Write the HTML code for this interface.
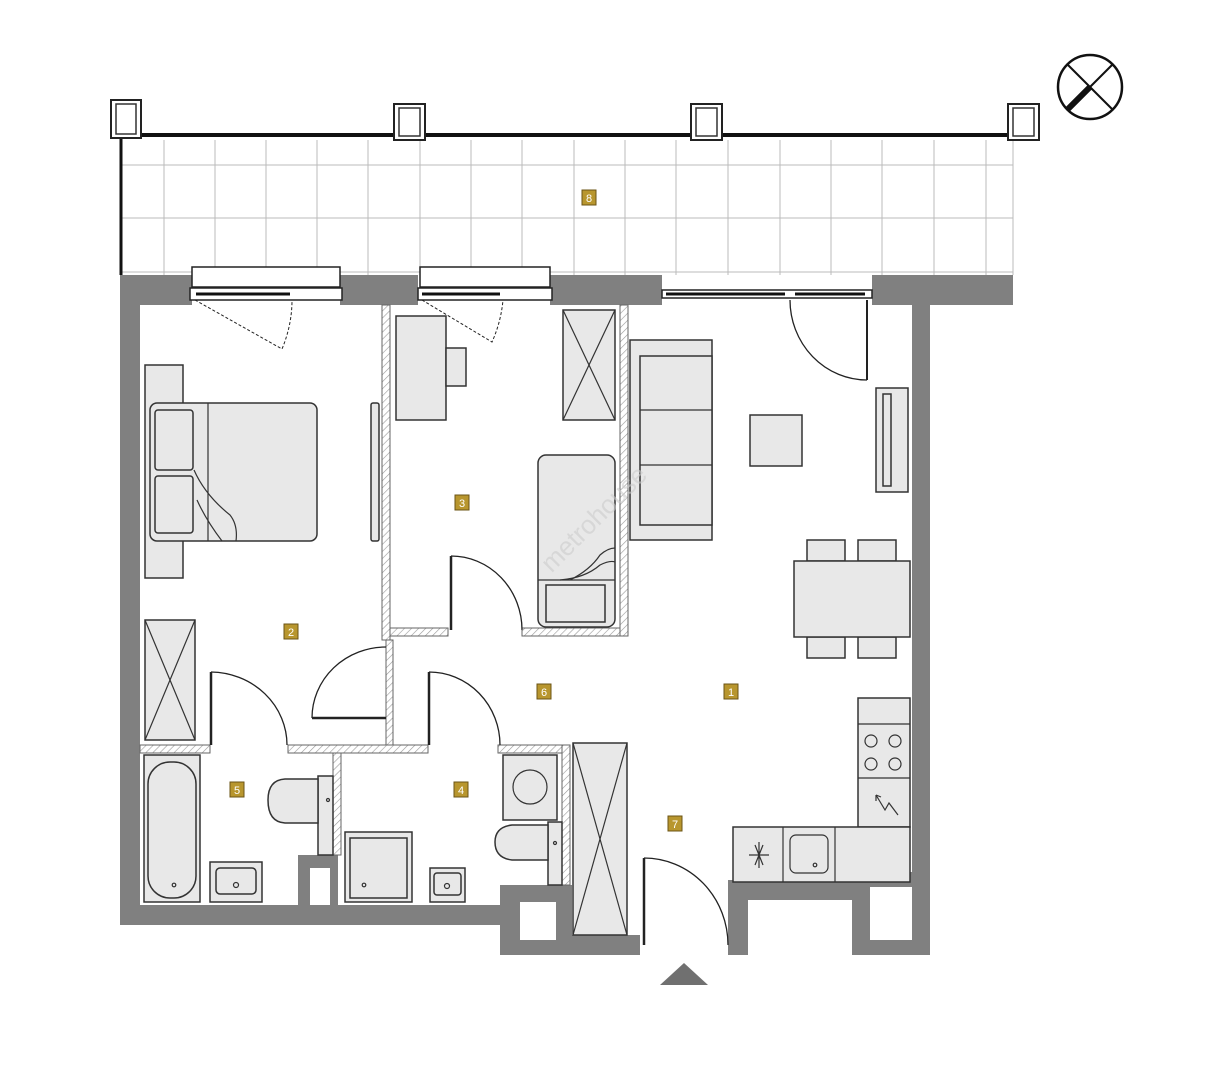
<!DOCTYPE html>
<html><head><meta charset="utf-8"><style>
body{margin:0;background:#fff;width:1205px;height:1080px;overflow:hidden}
svg{display:block}
text{font-family:"Liberation Sans",sans-serif}
</style></head><body>
<svg width="1205" height="1080" viewBox="0 0 1205 1080" xmlns="http://www.w3.org/2000/svg">
<defs>
<pattern id="h" width="5" height="5" patternUnits="userSpaceOnUse" patternTransform="rotate(45)">
<rect width="5" height="5" fill="#fff"/><line x1="0" y1="0" x2="0" y2="5" stroke="#999" stroke-width="1.2"/></pattern>
</defs>
<!-- balcony grid -->
<g stroke="#bbb" stroke-width="1">
<line x1="120" y1="165" x2="1013" y2="165"/><line x1="120" y1="218" x2="1013" y2="218"/><line x1="120" y1="272" x2="1013" y2="272"/>
<line x1="164" y1="140" x2="164" y2="275"/><line x1="215" y1="140" x2="215" y2="275"/><line x1="266" y1="140" x2="266" y2="275"/><line x1="317" y1="140" x2="317" y2="275"/><line x1="368" y1="140" x2="368" y2="275"/><line x1="420" y1="140" x2="420" y2="275"/><line x1="471" y1="140" x2="471" y2="275"/><line x1="522" y1="140" x2="522" y2="275"/><line x1="574" y1="140" x2="574" y2="275"/><line x1="625" y1="140" x2="625" y2="275"/><line x1="676" y1="140" x2="676" y2="275"/><line x1="728" y1="140" x2="728" y2="275"/><line x1="780" y1="140" x2="780" y2="275"/><line x1="831" y1="140" x2="831" y2="275"/><line x1="882" y1="140" x2="882" y2="275"/><line x1="934" y1="140" x2="934" y2="275"/><line x1="986" y1="140" x2="986" y2="275"/>
<line x1="1013" y1="140" x2="1013" y2="275"/>
</g>
<line x1="120" y1="135" x2="1020" y2="135" stroke="#111" stroke-width="4"/>
<line x1="121" y1="135" x2="121" y2="275" stroke="#111" stroke-width="3"/>
<g fill="#fff" stroke="#222" stroke-width="2">
<rect x="111" y="100" width="30" height="38"/><rect x="394" y="104" width="31" height="36"/><rect x="691" y="104" width="31" height="36"/><rect x="1008" y="104" width="31" height="36"/>
</g>
<g fill="#fff" stroke="#333" stroke-width="1.5">
<rect x="116" y="104" width="20" height="30"/><rect x="399" y="108" width="21" height="28"/><rect x="696" y="108" width="21" height="28"/><rect x="1013" y="108" width="21" height="28"/>
</g>
<!-- walls -->
<g fill="#808080">
<rect x="120" y="275" width="72" height="30"/><rect x="340" y="275" width="78" height="30"/><rect x="550" y="275" width="112" height="30"/><rect x="872" y="275" width="141" height="30"/>
<rect x="120" y="275" width="20" height="650"/>
<rect x="120" y="905" width="400" height="20"/>
<rect x="500" y="885" width="72" height="70"/>
<rect x="570" y="935" width="70" height="20"/>
<rect x="728" y="880" width="20" height="75"/><rect x="728" y="880" width="130" height="20"/>
<rect x="852" y="872" width="78" height="83"/>
<rect x="912" y="305" width="18" height="650"/>
<rect x="298" y="855" width="40" height="50"/>
</g>
<g fill="#fff"><rect x="520" y="902" width="36" height="38"/><rect x="870" y="887" width="42" height="53"/><rect x="310" y="868" width="20" height="37"/></g>
<!-- windows -->
<g fill="#fff" stroke="#222" stroke-width="1.5">
<rect x="192" y="267" width="148" height="20"/><rect x="420" y="267" width="130" height="20"/>
<rect x="190" y="288" width="152" height="12"/><rect x="418" y="288" width="134" height="12"/>
<rect x="662" y="290" width="210" height="8"/>
</g>
<g stroke="#111" stroke-width="3"><line x1="196" y1="294" x2="290" y2="294"/><line x1="422" y1="294" x2="500" y2="294"/><line x1="795" y1="294" x2="865" y2="294"/><line x1="666" y1="294" x2="785" y2="294"/></g>
<g stroke="#222" stroke-width="1" fill="none" stroke-dasharray="3,2">
<path d="M195 300 L282 349 Q292 325 292 300"/><path d="M422 300 L492 342 Q501 322 503 300"/>
</g>
<!-- partitions -->
<g fill="url(#h)" stroke="#666" stroke-width="1">
<rect x="382" y="305" width="8" height="335"/><rect x="390" y="628" width="58" height="8"/><rect x="522" y="628" width="106" height="8"/><rect x="620" y="305" width="8" height="331"/>
<rect x="140" y="745" width="70" height="8"/><rect x="288" y="745" width="140" height="8"/><rect x="386" y="640" width="7" height="105"/>
<rect x="333" y="753" width="8" height="102"/>
<rect x="498" y="745" width="72" height="8"/><rect x="562" y="745" width="8" height="140"/>
</g>
<!-- furniture -->
<g fill="#e8e8e8" stroke="#333" stroke-width="1.5">
<rect x="145" y="365" width="38" height="213"/>
<rect x="150" y="403" width="167" height="138" rx="7"/>
<rect x="155" y="410" width="38" height="60" rx="3"/><rect x="155" y="476" width="38" height="57" rx="3"/>
<rect x="145" y="620" width="50" height="120"/>
<rect x="371" y="403" width="8" height="138" rx="2"/>
<rect x="396" y="316" width="50" height="104"/><rect x="446" y="348" width="20" height="38"/>
<rect x="563" y="310" width="52" height="110"/>
<rect x="538" y="455" width="77" height="172" rx="8"/><rect x="546" y="585" width="59" height="37"/>
<rect x="630" y="340" width="82" height="200"/><rect x="640" y="356" width="72" height="169"/>
<rect x="750" y="415" width="52" height="51"/>
<rect x="876" y="388" width="32" height="104"/><rect x="883" y="394" width="8" height="92"/>
<rect x="807" y="540" width="38" height="21"/><rect x="858" y="540" width="38" height="21"/>
<rect x="807" y="637" width="38" height="21"/><rect x="858" y="637" width="38" height="21"/>
<rect x="794" y="561" width="116" height="76"/>
<rect x="858" y="698" width="52" height="129"/>
<rect x="733" y="827" width="177" height="55"/>
<rect x="144" y="755" width="56" height="147"/><rect x="148" y="762" width="48" height="136" rx="22"/>
<rect x="210" y="862" width="52" height="40"/><rect x="216" y="868" width="40" height="26" rx="4"/>
<rect x="318" y="776" width="15" height="79"/>
<path d="M318 779 L285 779 Q268 780 268 800 Q268 822 285 823 L318 823 Z"/>
<rect x="345" y="832" width="67" height="70"/><rect x="350" y="838" width="57" height="60"/>
<rect x="430" y="868" width="35" height="34"/><rect x="434" y="873" width="27" height="22" rx="3"/>
<rect x="503" y="755" width="54" height="65"/>
<rect x="548" y="822" width="14" height="63"/>
<path d="M548 825 L512 825 Q495 827 495 842 Q495 858 512 860 L548 860 Z"/>
<rect x="573" y="743" width="54" height="192"/>
</g>
<g fill="none" stroke="#333" stroke-width="1.2">
<line x1="208" y1="403" x2="208" y2="541"/>
<path d="M194 470 Q205 495 230 515 Q238 525 236 541"/><path d="M197 500 Q206 520 222 541"/>
<line x1="145" y1="620" x2="195" y2="740"/><line x1="195" y1="620" x2="145" y2="740"/>
<line x1="563" y1="310" x2="615" y2="420"/><line x1="615" y1="310" x2="563" y2="420"/>
<line x1="538" y1="580" x2="615" y2="580"/><path d="M570 580 Q590 570 600 555 Q608 548 615 548"/><path d="M560 580 Q585 578 600 565 Q610 560 615 562"/>
<line x1="640" y1="410" x2="712" y2="410"/><line x1="640" y1="465" x2="712" y2="465"/>
<line x1="858" y1="724" x2="910" y2="724"/><line x1="858" y1="778" x2="910" y2="778"/>
<circle cx="871" cy="741" r="6"/><circle cx="895" cy="741" r="6"/><circle cx="871" cy="764" r="6"/><circle cx="895" cy="764" r="6"/>
<path d="M876 795 L885 810 L889 803 L898 815"/><path d="M876 795 L876 801 M876 795 L881 797"/>
<line x1="783" y1="827" x2="783" y2="882"/><line x1="835" y1="827" x2="835" y2="882"/>
<rect x="790" y="835" width="38" height="38" rx="6" fill="#e8e8e8"/>
<path d="M755 845 L763 865 M763 845 L755 865 M749 855 L769 855 M759 842 L759 868"/>
<circle cx="530" cy="787" r="17"/>
<line x1="573" y1="743" x2="627" y2="935"/><line x1="627" y1="743" x2="573" y2="935"/>
<circle cx="174" cy="885" r="1.8"/><circle cx="236" cy="885" r="2.5"/><circle cx="364" cy="885" r="1.8"/><circle cx="447" cy="886" r="2.5"/><circle cx="328" cy="800" r="1.5"/><circle cx="555" cy="843" r="1.5"/><circle cx="815" cy="865" r="1.8"/>
</g>
<!-- doors -->
<g fill="none" stroke="#222" stroke-width="1.3">
<path d="M211 672 A77 73 0 0 1 287 745"/><line x1="211" y1="672" x2="211" y2="745" stroke-width="2.5"/>
<path d="M312 718 A74 71 0 0 1 386 647"/><line x1="312" y1="718" x2="386" y2="718" stroke-width="2.5"/>
<path d="M429 672 A71 73 0 0 1 500 745"/><line x1="429" y1="672" x2="429" y2="745" stroke-width="2.5"/>
<path d="M451 556 A71 74 0 0 1 522 630"/><line x1="451" y1="556" x2="451" y2="630" stroke-width="2.5"/>
<path d="M644 858 A84 87 0 0 1 728 945"/><line x1="644" y1="858" x2="644" y2="945" stroke-width="2.5"/>
<path d="M790 300 A77 80 0 0 0 867 380"/><line x1="867" y1="300" x2="867" y2="380" stroke-width="2"/>
</g>
<!-- labels -->
<g fill="#b8962e" stroke="#6b5416" stroke-width="1">
<rect x="582" y="190" width="14" height="15"/><rect x="455" y="495" width="14" height="15"/><rect x="284" y="624" width="14" height="15"/><rect x="537" y="684" width="14" height="15"/><rect x="724" y="684" width="14" height="15"/><rect x="230" y="782" width="14" height="15"/><rect x="454" y="782" width="14" height="15"/><rect x="668" y="816" width="14" height="15"/>
</g>
<g fill="#fff" font-size="11" text-anchor="middle">
<text x="589" y="202">8</text><text x="462" y="507">3</text><text x="291" y="636">2</text><text x="544" y="696">6</text><text x="731" y="696">1</text><text x="237" y="794">5</text><text x="461" y="794">4</text><text x="675" y="828">7</text>
</g>
<text x="600" y="525" font-size="26" fill="#ccc" fill-opacity="0.6" transform="rotate(-45 600 525)" text-anchor="middle">metrohouse</text>
<!-- compass -->
<circle cx="1090" cy="87" r="32" fill="none" stroke="#111" stroke-width="2.5"/>
<line x1="1068" y1="65" x2="1112" y2="109" stroke="#111" stroke-width="2"/><line x1="1112" y1="65" x2="1068" y2="109" stroke="#111" stroke-width="2"/>
<line x1="1090" y1="87" x2="1068" y2="109" stroke="#111" stroke-width="6"/>
<polygon points="660,985 708,985 684,963" fill="#707070"/>
</svg>
</body></html>
